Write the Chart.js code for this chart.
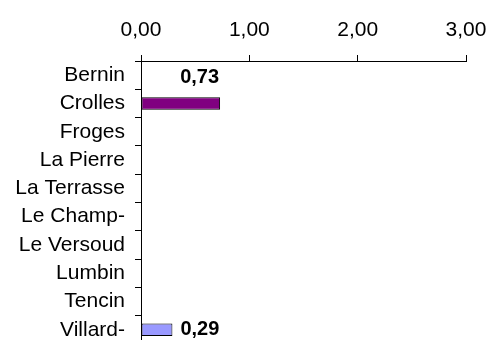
<!DOCTYPE html>
<html>
<head>
<meta charset="utf-8">
<script src="https://cdn.jsdelivr.net/npm/chart.js@4/dist/chart.umd.min.js"></script>
<style>
  html, body { margin: 0; padding: 0; background: #fff; overflow: hidden; }
  #wrap { width: 488px; height: 346px; }
</style>
</head>
<body>
<div id="wrap"><canvas id="chart" width="488" height="346"></canvas></div>
<script>
// Communes shown on the vertical axis
const communes = ['Bernin', 'Crolles', 'Froges', 'La Pierre', 'La Terrasse',
                  'Le Champ-', 'Le Versoud', 'Lumbin', 'Tencin', 'Villard-'];
// Value per commune (empty rows carry no bar)
const valeurs = [0, 0.73, 0, 0, 0, 0, 0, 0, 0, 0.29];
// Horizontal axis ticks
const graduations = [0, 1, 2, 3];

const couleurs = communes.map((c, i) => i === 9 ? '#9999FF' : '#800080');
const fmt = v => v.toFixed(2).replace('.', ',');
const FONT = '"Liberation Sans", Arial, sans-serif';

// Value labels: Crolles label sits one row above its bar, right-aligned on its end;
// Villard label sits just after its bar.
const etiquettes = {
  id: 'etiquettes',
  afterDatasetsDraw(chart) {
    const ctx = chart.ctx;
    const meta = chart.getDatasetMeta(0);
    const yScale = chart.scales.y;
    const row = yScale.getPixelForValue(1) - yScale.getPixelForValue(0);
    ctx.save();
    ctx.font = 'bold 20px ' + FONT;
    ctx.fillStyle = '#000';
    ctx.textBaseline = 'middle';
    meta.data.forEach((bar, i) => {
      const v = valeurs[i];
      if (!v) return;
      if (i === 1) {
        ctx.textAlign = 'right';
        ctx.fillText(fmt(v), bar.x - 1, bar.y - row + 2);
      } else {
        ctx.textAlign = 'left';
        ctx.fillText(fmt(v), bar.x + 8, bar.y);
      }
    });
    ctx.restore();
  }
};

new Chart(document.getElementById('chart'), {
  type: 'bar',
  data: {
    labels: communes,
    datasets: [{
      data: valeurs,
      backgroundColor: couleurs,
      borderColor: '#000',
      borderWidth: 1,
      borderSkipped: false,
      categoryPercentage: 1,
      barPercentage: 0.44
    }]
  },
  options: {
    indexAxis: 'y',
    responsive: false,
    animation: false,
    layout: { padding: { top: 1, right: 22, bottom: 2, left: 0 } },
    plugins: { legend: { display: false }, tooltip: { enabled: false } },
    scales: {
      x: {
        position: 'top',
        min: 0, max: 3,
        afterBuildTicks: s => { s.ticks = graduations.map(v => ({ value: v })); },
        afterFit: s => { s.height = 60; s.paddingLeft = 0; s.paddingRight = 0; },
        ticks: {
          callback: v => fmt(v),
          color: '#000',
          font: { family: FONT, size: 21 },
          padding: 12,
          maxRotation: 0
        },
        grid: { drawOnChartArea: false, tickLength: 6, color: '#000', tickColor: '#000' },
        border: { color: '#000', width: 1 }
      },
      y: {
        afterFit: s => { s.width = 141; s.paddingTop = 0; s.paddingBottom = 0; },
        ticks: {
          color: '#000',
          font: { family: FONT, size: 21 },
          padding: 10,
          autoSkip: false
        },
        grid: { drawOnChartArea: false, tickLength: 6, color: '#000', tickColor: '#000', offset: true },
        border: { color: '#000', width: 1 }
      }
    }
  },
  plugins: [etiquettes]
});
</script>
</body>
</html>
